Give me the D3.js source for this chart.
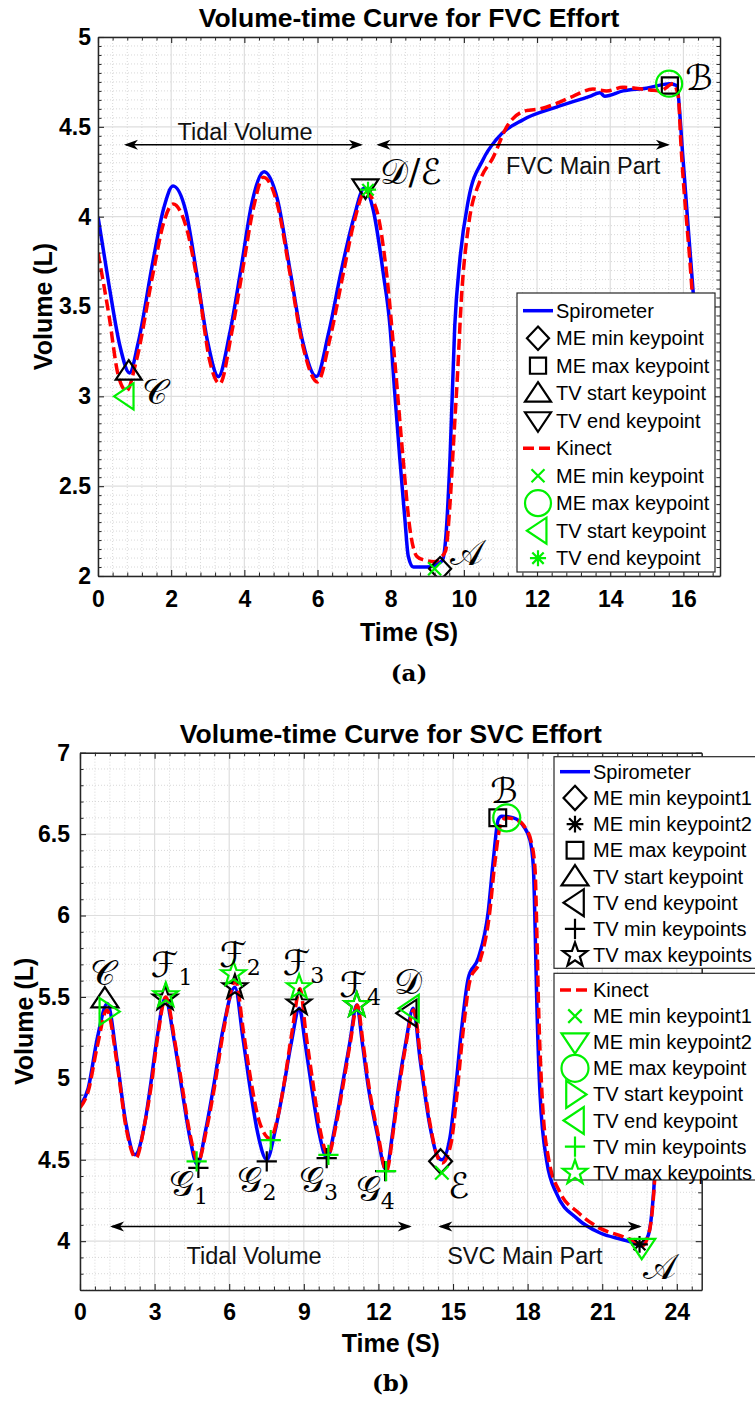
<!DOCTYPE html>
<html>
<head>
<meta charset="utf-8">
<script src="https://cdn.jsdelivr.net/npm/d3@7"></script>
<style>
body{margin:0;background:#fff;}
text{font-family:"Liberation Sans",Arial,sans-serif;}
</style>
</head>
<body>
<svg id="fig" width="755" height="1405"></svg>
<script>
'use strict'

// ---- (a) FVC effort ----
var fvcSpiroT = [0,0.3,0.6,0.86,1.1,1.5,1.8,2.05,2.4,2.7,3.0,3.29,3.6,3.9,4.2,4.54,4.9,5.25,5.6,5.97,6.3,6.65,7.0,7.28,7.52,7.8,7.98,8.11,8.25,8.39,8.48,8.62,8.98,9.3,9.42,9.5,9.62,9.75,9.89,10.12,10.53,10.89,11.62,12.53,13.44,13.72,13.85,14.35,14.99,15.63,15.81,15.99,16.13,16.27,16.5,16.7];
var fvcSpiroV = [4.0,3.62,3.28,3.13,3.3,3.75,4.05,4.17,4.03,3.68,3.3,3.11,3.35,3.7,4.07,4.25,4.1,3.7,3.3,3.11,3.35,3.7,4.0,4.16,4.04,3.68,3.39,3.02,2.65,2.31,2.11,2.05,2.05,2.07,2.09,2.2,2.65,3.39,3.76,4.09,4.32,4.43,4.54,4.61,4.67,4.69,4.67,4.70,4.715,4.74,4.73,4.32,3.94,3.57,2.8,2.4];
var fvcKinectT = [0,0.3,0.55,0.78,1.05,1.5,1.8,2.05,2.4,2.75,3.05,3.33,3.65,3.95,4.25,4.52,4.9,5.25,5.6,6.0,6.35,6.7,7.0,7.3,7.61,7.89,8.11,8.34,8.52,8.71,8.89,9.21,9.35,9.5,9.62,9.72,9.82,9.94,10.12,10.44,10.8,11.17,11.7,12.08,12.53,12.98,13.53,13.9,14.35,15.08,15.36,15.72,15.86,15.93,16.2,16.5,16.7];
var fvcKinectV = [3.8,3.45,3.12,3.03,3.2,3.68,3.97,4.07,3.95,3.6,3.2,3.07,3.35,3.7,4.05,4.22,4.07,3.68,3.28,3.08,3.33,3.68,3.97,4.14,4.04,3.68,3.2,2.65,2.27,2.11,2.09,2.08,2.1,2.14,2.4,2.75,3.1,3.57,3.94,4.2,4.33,4.5,4.59,4.6,4.63,4.67,4.71,4.70,4.72,4.705,4.70,4.74,4.67,4.41,3.69,2.8,2.4];

var fvcKeyNames = ['ME min keypoint','ME max keypoint','TV start keypoint','TV end keypoint'];
var fvcSpiroKeyT = [[9.35],[15.63],[0.84],[7.31]];
var fvcSpiroKeyV = [[2.04],[4.73],[3.14],[4.16]];
var fvcKinectKeyT = [[9.2],[15.61],[0.74],[7.38]];
var fvcKinectKeyV = [[2.04],[4.74],[3.0],[4.15]];

var fvcXTicks = [0,2,4,6,8,10,12,14,16];
var fvcYTicks = [2,2.5,3,3.5,4,4.5,5];

// ---- (b) SVC effort ----
var svcSpiroT = [0,0.33,0.7,1.1,1.5,1.85,2.21,2.6,2.82,3.1,3.42,3.8,4.09,4.4,4.72,5.05,5.36,5.75,6.23,6.55,6.84,7.15,7.51,7.85,8.18,8.5,8.82,9.05,9.32,9.62,9.93,10.25,10.53,10.85,11.13,11.35,11.6,11.95,12.3,12.6,12.8,13.1,13.4,13.68,14.08,14.35,14.55,14.88,15.08,15.35,15.62,16.02,16.42,16.62,16.82,16.96,17.43,17.83,18.1,18.23,18.3,18.36,18.5,18.77,19.17,19.98,20.92,21.8,22.26,22.55,22.86,23.06,23.25,23.45];
var svcSpiroV = [4.83,4.94,5.25,5.46,5.1,4.72,4.53,4.72,4.94,5.25,5.49,5.22,4.94,4.65,4.47,4.68,4.94,5.3,5.56,5.25,4.94,4.66,4.50,4.68,4.94,5.22,5.43,5.22,4.94,4.66,4.51,4.7,4.94,5.22,5.45,5.22,4.94,4.66,4.44,4.7,4.94,5.22,5.43,5.11,4.7,4.53,4.5,4.64,4.9,5.31,5.62,5.74,6.03,6.34,6.59,6.61,6.60,6.55,6.46,6.30,5.93,5.52,4.9,4.49,4.29,4.14,4.05,4.01,3.99,3.97,4.04,4.29,4.8,5.4];
var svcKinectT = [0,0.33,0.7,1.08,1.5,1.85,2.25,2.6,2.85,3.12,3.45,3.82,4.12,4.42,4.75,5.08,5.4,5.78,6.25,6.58,6.88,7.2,7.65,7.95,8.22,8.52,8.85,9.08,9.36,9.66,9.98,10.28,10.56,10.87,11.15,11.38,11.63,11.98,12.32,12.62,12.83,13.12,13.42,13.72,14.1,14.37,14.57,14.92,15.13,15.4,15.68,16.08,16.46,16.68,16.9,17.12,17.5,17.9,18.15,18.3,18.37,18.43,18.58,18.85,19.3,20.0,20.9,21.8,22.3,22.6,22.88,23.07,23.25,23.45];
var svcKinectV = [4.82,4.92,5.2,5.42,5.08,4.7,4.51,4.72,4.94,5.25,5.5,5.22,4.94,4.66,4.49,4.68,4.94,5.3,5.6,5.28,4.98,4.74,4.63,4.76,4.98,5.28,5.55,5.28,4.98,4.68,4.53,4.7,4.94,5.22,5.45,5.22,4.94,4.66,4.43,4.7,4.94,5.22,5.42,5.1,4.7,4.52,4.48,4.6,4.86,5.28,5.6,5.72,6.0,6.32,6.55,6.6,6.59,6.54,6.45,6.28,5.9,5.5,4.9,4.5,4.3,4.18,4.08,4.03,4.0,3.97,4.05,4.29,4.8,5.4];

var svcKeyNames = ['ME min keypoint1','ME min keypoint2','ME max keypoint','TV start keypoint','TV end keypoint','TV min keypoints','TV max keypoints'];
var svcSpiroKeyT = [[14.5],[22.5],[16.8],[1.0],[13.18],[4.76,7.51,9.92,12.27],[3.42,6.23,8.81,11.13]];
var svcSpiroKeyV = [[4.49],[3.98],[6.6],[5.49],[5.40],[4.45,4.49,4.51,4.43],[5.49,5.56,5.46,5.45]];
var svcKinectKeyT = [[14.55],[22.59],[17.16],[1.14],[13.27],[4.69,7.67,9.99,12.31],[3.45,6.17,8.81,11.13]];
var svcKinectKeyV = [[4.42],[3.96],[6.6],[5.41],[5.43],[4.49,4.62,4.53,4.43],[5.51,5.64,5.56,5.45]];

var svcXTicks = [0,3,6,9,12,15,18,21,24];
var svcYTicks = [4,4.5,5,5.5,6,6.5,7];

// ---- styles ----
var blue = '#0000ff', red = '#ff0000', black = '#000000', green = '#00f000';
var axisColor = '#262626';
var fvcSpiroShapes = ['diamond','square','triUp','triDown'];
var fvcKinectShapes = ['x','circle','triLeft','asterisk'];
var svcSpiroShapes = ['diamond','asterisk','square','triUp','triLeft','plus','star'];
var svcKinectShapes = ['x','triDown','circle','triRight','triLeft','plus','star'];

function markerPath(kind, ms){
	var h = ms/2;
	switch(kind){
		case 'diamond': return 'M0,'+(-0.9*h)+'L'+(0.85*h)+',0L0,'+(0.9*h)+'L'+(-0.85*h)+',0Z';
		case 'square': var q = 0.62*h; return 'M'+(-q)+','+(-q)+'H'+q+'V'+q+'H'+(-q)+'Z';
		case 'triUp': return 'M0,'+(-0.85*h)+'L'+h+','+(0.65*h)+'L'+(-h)+','+(0.65*h)+'Z';
		case 'triDown': return 'M0,'+(0.85*h)+'L'+h+','+(-0.65*h)+'L'+(-h)+','+(-0.65*h)+'Z';
		case 'triLeft': return 'M'+(-0.85*h)+',0L'+(0.65*h)+','+(-h)+'L'+(0.65*h)+','+h+'Z';
		case 'triRight': return 'M'+(0.85*h)+',0L'+(-0.65*h)+','+(-h)+'L'+(-0.65*h)+','+h+'Z';
		case 'circle': return d3.arc()({innerRadius:0,outerRadius:h,startAngle:0,endAngle:2*Math.PI});
		case 'x': var a = 0.5*h; return 'M'+(-a)+','+(-a)+'L'+a+','+a+'M'+(-a)+','+a+'L'+a+','+(-a);
		case 'plus': var p = 0.75*h; return 'M'+(-p)+',0H'+p+'M0,'+(-p)+'V'+p;
		case 'asterisk':
			var r = 0.62*h, s = r*0.707;
			return 'M'+(-r)+',0H'+r+'M0,'+(-r)+'V'+r+'M'+(-s)+','+(-s)+'L'+s+','+s+'M'+(-s)+','+s+'L'+s+','+(-s);
		case 'star':
			var pts = [];
			for(var i=0;i<10;i++){
				var ang = -Math.PI/2 + i*Math.PI/5;
				var rad = (i%2==0) ? 0.95*h : 0.38*h;
				pts.push([rad*Math.cos(ang), rad*Math.sin(ang)]);
			}
			return 'M'+pts.map(function(p){return p[0].toFixed(2)+','+p[1].toFixed(2);}).join('L')+'Z';
	}
}

function stepsOf(lo, hi, step){
	var n = Math.floor((hi-lo)/step + 1e-6);
	return d3.range(n+1).map(function(i){return +(lo+i*step).toFixed(6);});
}

var svg = d3.select('#fig');

var panels = [
	{
		id:'a', left:98, top:37, right:720, bottom:576,
		xDom:[0,17], yDom:[2,5], xTicks:fvcXTicks, yTicks:fvcYTicks, xMinor:0.4, yMinor:0.05,
		yLabelPad:7, xLabelPad:15, title:'Volume-time Curve for FVC Effort', titleY:27,
		yLabelX:52, xLabelY:641, caption:'(a)', captionY:681,
		spiro:[fvcSpiroT,fvcSpiroV], kinect:[fvcKinectT,fvcKinectV],
		keyNames:fvcKeyNames, spiroKeys:[fvcSpiroKeyT,fvcSpiroKeyV], kinectKeys:[fvcKinectKeyT,fvcKinectKeyV],
		spiroShapes:fvcSpiroShapes, kinectShapes:fvcKinectShapes, ms:26,
		arrows:[{t1:0.71,t2:7.24,v:4.40,text:'Tidal Volume',tt:4.02,tv:4.427},
		        {t1:7.61,t2:15.63,v:4.40,text:'FVC Main Part',tt:13.26,tv:4.24}],
		labels:[{s:'𝒞',t:1.2,v:2.958},{s:'𝒟/ℰ',t:7.72,v:4.18},{s:'𝒜',t:9.63,v:2.062},{s:'ℬ',t:16.05,v:4.705}],
		legends:[{x:517,y:293,w:198,h:279,row0:310.7,step:27.5,symX:538,lineX:[523,553],textX:556,groups:['spiro','kinect']}]
	},
	{
		id:'b', left:80, top:752.7, right:701.7, bottom:1290,
		xDom:[0,25], yDom:[3.7,7], xTicks:svcXTicks, yTicks:svcYTicks, xMinor:0.6, yMinor:0.1,
		yLabelPad:10, xLabelPad:14, title:'Volume-time Curve for SVC Effort', titleY:743,
		yLabelX:33, xLabelY:1352, caption:'(b)', captionY:1391,
		spiro:[svcSpiroT,svcSpiroV], kinect:[svcKinectT,svcKinectV],
		keyNames:svcKeyNames, spiroKeys:[svcSpiroKeyT,svcSpiroKeyV], kinectKeys:[svcKinectKeyT,svcKinectKeyV],
		spiroShapes:svcSpiroShapes, kinectShapes:svcKinectShapes, ms:27,
		arrows:[{t1:1.21,t2:13.34,v:4.09,text:'Tidal Volume',tt:7.0,tv:3.858},
		        {t1:14.41,t2:22.59,v:4.09,text:'SVC Main Part',tt:17.89,tv:3.858}],
		labels:[{s:'𝒞',t:0.42,v:5.571},{s:'ℱ',sub:'1',t:2.85,v:5.62},{s:'ℱ',sub:'2',t:5.6,v:5.683},
		        {s:'ℱ',sub:'3',t:8.15,v:5.632},{s:'ℱ',sub:'4',t:10.43,v:5.498},{s:'𝒟',t:12.62,v:5.52},
		        {s:'𝒢',sub:'1',t:3.58,v:4.278},{s:'𝒢',sub:'2',t:6.33,v:4.30},{s:'𝒢',sub:'3',t:8.81,v:4.30},
		        {s:'𝒢',sub:'4',t:11.09,v:4.247},{s:'ℰ',t:14.8,v:4.268},{s:'ℬ',t:16.5,v:6.69},{s:'𝒜',t:22.62,v:3.77}],
		legends:[{x:554,y:756.7,w:210,h:211.6,row0:771.7,step:26.2,symX:575,lineX:[560,590],textX:593,groups:['spiro']},
		         {x:554,y:973.3,w:210,h:206.7,row0:990,step:26.1,symX:575,lineX:[560,590],textX:593,groups:['kinect']}]
	}
];

function drawPanel(p){
	var g = svg.append('g');
	var x = d3.scaleLinear().domain(p.xDom).range([p.left,p.right]);
	var y = d3.scaleLinear().domain(p.yDom).range([p.bottom,p.top]);
	var xMinors = stepsOf(p.xDom[0],p.xDom[1],p.xMinor).filter(function(v){return !p.xTicks.some(function(m){return Math.abs(m-v)<1e-6;});});
	var yMinors = stepsOf(p.yDom[0],p.yDom[1],p.yMinor).filter(function(v){return !p.yTicks.some(function(m){return Math.abs(m-v)<1e-6;});});

	// minor grid
	g.selectAll(null).data(xMinors).enter().append('line')
		.attr('x1',x).attr('x2',x).attr('y1',p.top).attr('y2',p.bottom)
		.attr('stroke','#d8d8d8').attr('stroke-width',1).attr('stroke-dasharray','1,2');
	g.selectAll(null).data(yMinors).enter().append('line')
		.attr('y1',y).attr('y2',y).attr('x1',p.left).attr('x2',p.right)
		.attr('stroke','#d8d8d8').attr('stroke-width',1).attr('stroke-dasharray','1,2');
	// major grid
	g.selectAll(null).data(p.xTicks).enter().append('line')
		.attr('x1',x).attr('x2',x).attr('y1',p.top).attr('y2',p.bottom)
		.attr('stroke','#dedede').attr('stroke-width',1.2);
	g.selectAll(null).data(p.yTicks).enter().append('line')
		.attr('y1',y).attr('y2',y).attr('x1',p.left).attr('x2',p.right)
		.attr('stroke','#dedede').attr('stroke-width',1.2);

	// curves
	var clipId = 'clip'+p.id;
	svg.append('clipPath').attr('id',clipId).append('rect')
		.attr('x',p.left).attr('y',p.top).attr('width',p.right-p.left).attr('height',p.bottom-p.top);
	var line = d3.line().x(function(d){return x(d[0]);}).y(function(d){return y(d[1]);}).curve(d3.curveMonotoneX);
	var plot = g.append('g').attr('clip-path','url(#'+clipId+')');
	plot.append('path').attr('d',line(d3.zip(p.spiro[0],p.spiro[1])))
		.attr('fill','none').attr('stroke',blue).attr('stroke-width',3.5).attr('stroke-linejoin','round');
	plot.append('path').attr('d',line(d3.zip(p.kinect[0],p.kinect[1])))
		.attr('fill','none').attr('stroke',red).attr('stroke-width',3.5).attr('stroke-dasharray','11,5');

	// keypoints
	function keyMarks(keys, shapes, color){
		for(var c=0;c<shapes.length;c++){
			var pts = d3.zip(keys[0][c],keys[1][c]);
			plot.selectAll(null).data(pts).enter().append('path')
				.attr('d',markerPath(shapes[c],p.ms))
				.attr('transform',function(d){return 'translate('+x(d[0])+','+y(d[1])+')';})
				.attr('fill','none').attr('stroke',color).attr('stroke-width',2.2);
		}
	}
	keyMarks(p.spiroKeys,p.spiroShapes,black);
	keyMarks(p.kinectKeys,p.kinectShapes,green);

	// arrows
	p.arrows.forEach(function(a){
		var x1 = x(a.t1), x2 = x(a.t2), yy = y(a.v);
		g.append('line').attr('x1',x1+2).attr('x2',x2-2).attr('y1',yy).attr('y2',yy)
			.attr('stroke','#000').attr('stroke-width',1.6);
		g.append('path').attr('d','M'+x1+','+yy+'l14,-5l-4,5l4,5z').attr('fill','#000');
		g.append('path').attr('d','M'+x2+','+yy+'l-14,-5l4,5l-4,5z').attr('fill','#000');
		g.append('text').attr('x',x(a.tt)).attr('y',y(a.tv)).attr('text-anchor','middle')
			.attr('font-size',23.5).attr('fill','#111').text(a.text);
	});

	// keypoint letters
	p.labels.forEach(function(l){
		var t = g.append('text').attr('x',x(l.t)).attr('y',y(l.v))
			.style('font-family','"DejaVu Serif","DejaVu Sans",serif').attr('font-size',35).attr('fill','#000');
		t.append('tspan').text(l.s);
		if(l.sub) t.append('tspan').attr('dy',8).attr('font-size',22).text(l.sub);
	});

	// axes
	var axG = g.append('g').attr('color',axisColor);
	function styleAxis(sel){
		sel.selectAll('.domain').attr('stroke-width',1.5);
		sel.selectAll('.tick line').attr('stroke-width',1.1);
		sel.selectAll('text').attr('font-size',23).attr('font-weight','bold').attr('fill','#000')
			.style('font-family','"Liberation Sans",Arial,sans-serif');
	}
	var bx = axG.append('g').attr('transform','translate(0,'+p.bottom+')')
		.call(d3.axisBottom(x).tickValues(p.xTicks).tickSizeInner(-6).tickSizeOuter(0).tickPadding(p.xLabelPad).tickFormat(d3.format('d')));
	styleAxis(bx);
	var lx = axG.append('g').attr('transform','translate('+p.left+',0)')
		.call(d3.axisLeft(y).tickValues(p.yTicks).tickSizeInner(-6).tickSizeOuter(0).tickPadding(p.yLabelPad).tickFormat(function(d){return String(d);}));
	styleAxis(lx);
	var tx = axG.append('g').attr('transform','translate(0,'+p.top+')')
		.call(d3.axisTop(x).tickValues(p.xTicks).tickSizeInner(-6).tickSizeOuter(0).tickFormat(''));
	styleAxis(tx);
	var rx = axG.append('g').attr('transform','translate('+p.right+',0)')
		.call(d3.axisRight(y).tickValues(p.yTicks).tickSizeInner(-6).tickSizeOuter(0).tickFormat(''));
	styleAxis(rx);
	[[d3.axisBottom(x).tickValues(xMinors),'translate(0,'+p.bottom+')'],
	 [d3.axisTop(x).tickValues(xMinors),'translate(0,'+p.top+')'],
	 [d3.axisLeft(y).tickValues(yMinors),'translate('+p.left+',0)'],
	 [d3.axisRight(y).tickValues(yMinors),'translate('+p.right+',0)']].forEach(function(m){
		var s = axG.append('g').attr('transform',m[1]).call(m[0].tickSizeInner(-3.5).tickSizeOuter(0).tickFormat(''));
		s.select('.domain').remove();
		s.selectAll('.tick line').attr('stroke-width',1);
	});

	// legends
	p.legends.forEach(function(L){
		var lg = g.append('g');
		lg.append('rect').attr('x',L.x).attr('y',L.y).attr('width',L.w).attr('height',L.h)
			.attr('fill','#fff').attr('stroke',axisColor).attr('stroke-width',1.2);
		var rows = [];
		L.groups.forEach(function(grp){
			if(grp=='spiro'){
				rows.push({label:'Spirometer',line:true,color:blue,dash:null});
				p.keyNames.forEach(function(n,i){rows.push({label:n,shape:p.spiroShapes[i],color:black});});
			}else{
				rows.push({label:'Kinect',line:true,color:red,dash:'11,5'});
				p.keyNames.forEach(function(n,i){rows.push({label:n,shape:p.kinectShapes[i],color:green});});
			}
		});
		rows.forEach(function(r,i){
			var ry = L.row0 + i*L.step;
			if(r.line){
				lg.append('line').attr('x1',L.lineX[0]).attr('x2',L.lineX[1]).attr('y1',ry).attr('y2',ry)
					.attr('stroke',r.color).attr('stroke-width',3.5).attr('stroke-dasharray',r.dash);
			}else{
				lg.append('path').attr('d',markerPath(r.shape,p.ms)).attr('transform','translate('+L.symX+','+ry+')')
					.attr('fill','none').attr('stroke',r.color).attr('stroke-width',2.2);
			}
			lg.append('text').attr('x',L.textX).attr('y',ry).attr('dy','0.35em')
				.attr('font-size',20).attr('fill','#000').text(r.label);
		});
	});

	// titles and labels
	var cx = (p.left+p.right)/2;
	g.append('text').attr('x',cx).attr('y',p.titleY).attr('text-anchor','middle')
		.attr('font-size',26.5).attr('font-weight','bold').text(p.title);
	g.append('text').attr('x',cx).attr('y',p.xLabelY).attr('text-anchor','middle')
		.attr('font-size',25).attr('font-weight','bold').text('Time (S)');
	g.append('text').attr('transform','translate('+p.yLabelX+','+((p.top+p.bottom)/2)+') rotate(-90)')
		.attr('text-anchor','middle').attr('font-size',25).attr('font-weight','bold').text('Volume (L)');
	g.append('text').attr('x',cx).attr('y',p.captionY).attr('text-anchor','middle')
		.style('font-family','"DejaVu Serif","Liberation Serif",serif').attr('font-size',23).attr('font-weight','bold').text(p.caption);
}

panels.forEach(drawPanel);
</script>
</body>
</html>
